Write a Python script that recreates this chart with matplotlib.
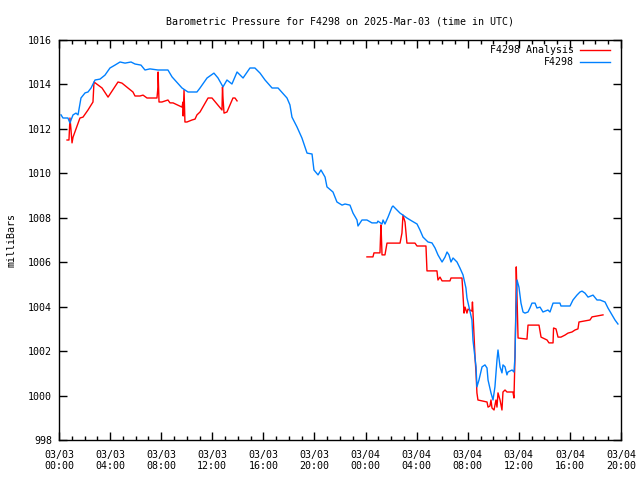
import matplotlib
matplotlib.use("Agg")
import matplotlib.pyplot as plt
from matplotlib.ticker import MultipleLocator

plt.rcParams['font.family'] = ['DejaVu Sans Mono']

# hours since 2025-03-03 00:00 UTC
blue_h = [0.16, 0.31, 0.70, 0.86, 0.94, 1.10, 1.33, 1.49, 1.72, 2.04, 2.27, 2.51, 2.82, 3.21, 3.60,
          3.99, 4.38, 4.78, 5.17, 5.64, 5.95, 6.42, 6.73, 7.12, 7.75, 8.53, 8.85, 9.63, 10.10, 10.80,
          11.04, 11.59, 12.13, 12.45, 12.84, 13.15, 13.54, 13.94, 14.41, 14.95, 15.34, 15.74, 16.13,
          16.68, 17.15, 17.85, 18.08, 18.24, 18.63, 19.02, 19.42, 19.81, 19.96, 20.28, 20.51, 20.83,
          20.98, 21.45, 21.76, 22.16, 22.39, 22.78, 23.02, 23.33, 23.41, 23.72, 24.11, 24.50, 24.90,
          24.97, 25.29, 25.37, 25.52, 25.76, 26.07, 26.15, 26.46, 26.70, 26.93, 27.24, 27.64, 28.03,
          28.26, 28.50, 28.89, 29.20, 29.44, 29.67, 29.99, 30.22, 30.38, 30.53, 30.69, 30.85, 31.16,
          31.39, 31.63, 31.86, 31.94, 32.10, 32.33, 32.41, 32.65, 32.72, 32.88, 33.12, 33.35, 33.51,
          33.59, 33.82, 33.98, 34.13, 34.29, 34.37, 34.53, 34.68, 34.76, 34.92, 35.07, 35.15, 35.47,
          35.62, 35.70, 35.78, 35.86, 36.01, 36.17, 36.33, 36.48, 36.72, 36.87, 37.03, 37.27, 37.42,
          37.66, 37.89, 38.28, 38.44, 38.68, 39.22, 39.30, 40.01, 40.24, 40.55, 40.79, 40.95, 41.18,
          41.42, 41.81, 42.12, 42.36, 42.75, 42.98, 43.29, 43.53, 43.76]
blue_p = [1012.63, 1012.49, 1012.49, 1012.26, 1012.40, 1012.63, 1012.71, 1012.63, 1013.39, 1013.62,
          1013.66, 1013.84, 1014.20, 1014.24, 1014.42, 1014.74, 1014.87, 1015.01, 1014.96, 1015.01,
          1014.92, 1014.87, 1014.65, 1014.70, 1014.65, 1014.65, 1014.34, 1013.84, 1013.66, 1013.66,
          1013.84, 1014.29, 1014.51, 1014.29, 1013.89, 1014.20, 1014.02, 1014.56, 1014.29, 1014.74,
          1014.74, 1014.51, 1014.20, 1013.84, 1013.84, 1013.39, 1013.08, 1012.53, 1012.09, 1011.59,
          1010.91, 1010.87, 1010.15, 1009.93, 1010.15, 1009.83, 1009.39, 1009.16, 1008.71, 1008.57,
          1008.62, 1008.57, 1008.21, 1007.90, 1007.63, 1007.90, 1007.90, 1007.77, 1007.77, 1007.85,
          1007.72, 1007.90, 1007.72, 1008.03, 1008.48, 1008.53, 1008.35, 1008.21, 1008.12, 1007.99,
          1007.85, 1007.72, 1007.45, 1007.13, 1006.91, 1006.87, 1006.64, 1006.33, 1006.01, 1006.23,
          1006.46, 1006.33, 1006.01, 1006.19, 1006.01, 1005.74, 1005.43, 1004.84, 1004.39, 1003.98,
          1003.40, 1002.50, 1001.29, 1000.39, 1000.70, 1001.29, 1001.38, 1001.24, 1000.70, 1000.12,
          999.80, 1000.39, 1001.60, 1002.05, 1001.29, 1001.02, 1001.38, 1001.29, 1000.93, 1001.06,
          1001.15, 1001.06, 1001.74, 1003.98, 1005.20, 1004.88, 1004.16, 1003.76, 1003.71, 1003.76,
          1003.94, 1004.16, 1004.16, 1003.94, 1003.98, 1003.76, 1003.85, 1003.76, 1004.16, 1004.16,
          1004.03, 1004.03, 1004.30, 1004.52, 1004.66, 1004.70, 1004.61, 1004.43, 1004.52, 1004.30,
          1004.30, 1004.21, 1003.94, 1003.63, 1003.40, 1003.22]

red1_h = [0.63, 0.78, 0.86, 0.94, 1.02, 1.10, 1.64, 1.88, 2.27, 2.66, 2.74, 3.37, 3.84, 4.62, 4.93,
          5.40, 5.79, 5.95, 6.34, 6.58, 6.89, 7.67, 7.75, 7.76, 7.83, 8.06, 8.53, 8.69, 8.93, 9.63,
          9.71, 9.72, 9.79, 9.86, 10.02, 10.41, 10.65, 10.80, 11.04, 11.67, 11.98, 12.76, 12.80,
          12.84, 12.92, 13.15, 13.62, 13.78, 13.94]
red1_p = [1011.50, 1011.50, 1012.49, 1011.95, 1011.37, 1011.63, 1012.49, 1012.53, 1012.85, 1013.21,
          1014.11, 1013.84, 1013.43, 1014.11, 1014.06, 1013.84, 1013.66, 1013.48, 1013.48, 1013.52,
          1013.39, 1013.39, 1013.89, 1014.56, 1013.21, 1013.21, 1013.30, 1013.17, 1013.17, 1012.98,
          1013.21, 1012.58, 1013.75, 1012.31, 1012.31, 1012.40, 1012.44, 1012.63, 1012.76, 1013.39,
          1013.39, 1012.85, 1013.89, 1013.39, 1012.71, 1012.76, 1013.39, 1013.39, 1013.26]

red2_h = [24.11, 24.58, 24.66, 25.13, 25.17, 25.21, 25.29, 25.52, 25.68, 26.70, 26.85, 26.93, 27.09,
          27.24, 27.87, 28.03, 28.73, 28.81, 29.59, 29.67, 29.83, 29.99, 30.61, 30.69, 31.55, 31.63,
          31.71, 31.79, 31.94, 32.02, 32.33, 32.37, 32.41, 32.57, 32.65, 32.72, 32.80, 33.51, 33.59,
          33.74, 33.82, 33.90, 34.06, 34.21, 34.29, 34.37, 34.53, 34.68, 34.76, 34.92, 35.07, 35.54,
          35.62, 35.70, 35.78, 35.80, 35.86, 35.94, 36.64, 36.72, 37.58, 37.74, 38.21, 38.36, 38.68,
          38.72, 38.91, 39.07, 39.30, 39.61, 39.85, 40.16, 40.40, 40.63, 40.71, 41.18, 41.57, 41.73,
          42.12, 42.59]
red2_p = [1006.24, 1006.24, 1006.42, 1006.42, 1007.09, 1007.68, 1006.33, 1006.33, 1006.86, 1006.86,
          1007.31, 1008.12, 1007.81, 1006.86, 1006.86, 1006.73, 1006.73, 1005.61, 1005.61, 1005.20,
          1005.33, 1005.16, 1005.16, 1005.29, 1005.29, 1004.53, 1003.71, 1003.98, 1003.71, 1003.89,
          1003.80, 1004.21, 1003.76, 1001.74, 1001.02, 1000.12, 999.80, 999.71, 999.48, 999.53,
          999.80, 999.44, 999.35, 999.80, 999.48, 1000.12, 999.80, 999.35, 1000.16, 1000.25,
          1000.16, 1000.16, 999.89, 1001.74, 1004.30, 1005.79, 1004.43, 1002.59, 1002.54, 1003.17,
          1003.17, 1002.63, 1002.50, 1002.37, 1002.37, 1003.04, 1003.00, 1002.63, 1002.63, 1002.72,
          1002.81, 1002.86, 1002.95, 1003.00, 1003.31, 1003.36, 1003.40, 1003.54, 1003.58, 1003.63]

xtick_pos = [0, 4, 8, 12, 16, 20, 24, 28, 32, 36, 40, 44]
xtick_labels = ["03/03\n00:00", "03/03\n04:00", "03/03\n08:00", "03/03\n12:00", "03/03\n16:00",
                "03/03\n20:00", "03/04\n00:00", "03/04\n04:00", "03/04\n08:00", "03/04\n12:00",
                "03/04\n16:00", "03/04\n20:00"]

RED = "#ff0000"
BLUE = "#0080ff"

fig = plt.figure(figsize=(6.4, 4.8), dpi=100)
ax = fig.add_axes([59/640, 1-440/480, (621-59)/640, 400/480])

ax.plot(red1_h, red1_p, color=RED, lw=1.0)
ax.plot(red2_h, red2_p, color=RED, lw=1.0)
ax.plot(blue_h, blue_p, color=BLUE, lw=1.0)

ax.set_xlim(0, 44)
ax.set_ylim(998, 1016)
ax.set_xticks(xtick_pos)
ax.set_xticklabels(xtick_labels, fontsize=7.2)
ax.xaxis.set_minor_locator(MultipleLocator(1))
ax.yaxis.set_major_locator(MultipleLocator(2))
ax.tick_params(axis='both', which='major', direction='in', length=6, width=1,
               top=True, right=True, labelsize=7.2, pad=5)
ax.tick_params(axis='x', which='major', pad=7)
ax.tick_params(axis='x', which='minor', direction='in', length=3, width=1, top=True, bottom=True)
for s in ax.spines.values():
    s.set_linewidth(1.0)

ax.set_ylabel("milliBars", fontsize=7.2, labelpad=8)
ax.set_title("Barometric Pressure for F4298 on 2025-Mar-03 (time in UTC)", fontsize=7.2, pad=11.5)

# legend drawn in axes coordinates
for i, (lab, col) in enumerate([("F4298 Analysis", RED), ("F4298", BLUE)]):
    yy = 1 - (10 + 12*i) / 400
    ax.text((574-59)/562, yy, lab, ha='right', va='center', fontsize=7.2, transform=ax.transAxes)
    ax.plot([(580-59)/562, (610-59)/562], [yy, yy], color=col, lw=1.0, transform=ax.transAxes)

fig.savefig("out.png", dpi=100)
